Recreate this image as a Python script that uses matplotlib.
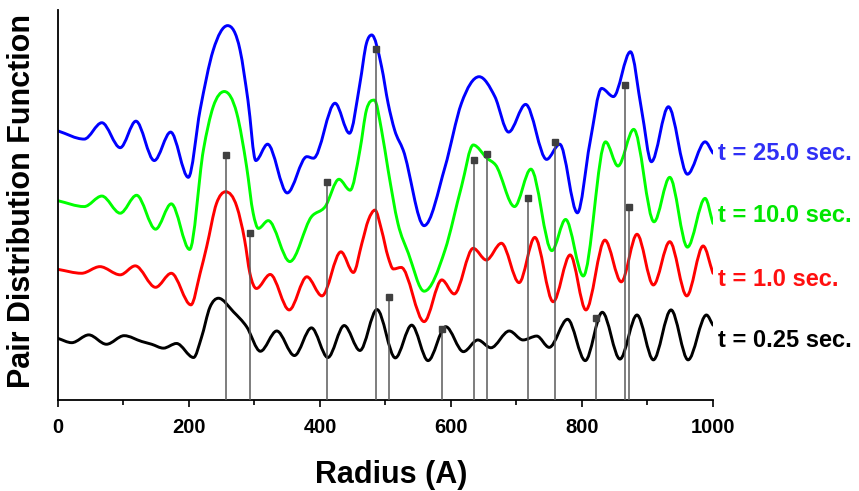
import numpy as np
import matplotlib

matplotlib.use("Agg")
import matplotlib.pyplot as plt
from matplotlib.path import Path
from matplotlib.patches import PathPatch

# curve readings: radius (A) and offset PDF value, read at peaks/troughs/shoulders/slopes
r_25 = [0, 40, 67, 95, 119, 147, 172, 199, 217, 237, 259, 278, 290, 302, 320, 350, 380,
        390, 423, 445, 461, 471, 479, 494, 504, 514, 527, 559, 591, 616, 643, 667, 688,
        714, 746, 766, 793, 812, 830, 848, 874, 891, 906, 932, 961, 988, 1000]
g_25 = [6.90, 6.69, 7.11, 6.47, 7.15, 6.14, 6.87, 5.71, 7.44, 8.97, 9.60, 8.97, 7.69, 6.14,
        6.56, 5.31, 6.24, 6.20, 7.61, 6.84, 8.12, 9.15, 9.36, 8.55, 7.61, 6.92, 6.41, 4.47,
        5.98, 7.61, 8.29, 7.78, 6.87, 7.58, 6.17, 6.56, 4.80, 6.58, 7.99, 7.78, 8.93, 7.44,
        6.11, 7.52, 5.79, 6.62, 6.33]

r_10 = [0, 40, 67, 95, 120, 149, 173, 201, 222, 237, 254, 273, 288, 298, 306, 321, 354,
        387, 408, 429, 446, 461, 471, 483, 494, 504, 519, 535, 559, 591, 616, 634, 655,
        668, 697, 722, 754, 775, 802, 836, 855, 879, 910, 934, 961, 988, 1000]
g_10 = [5.11, 4.96, 5.23, 4.79, 5.25, 4.38, 5.03, 3.86, 6.41, 7.52, 7.91, 7.35, 5.98, 4.79,
        4.40, 4.60, 3.55, 4.70, 4.96, 5.66, 5.38, 6.41, 7.44, 7.69, 6.92, 5.90, 4.53, 3.76,
        2.79, 3.85, 5.47, 6.54, 6.20, 6.03, 4.96, 5.92, 3.83, 4.63, 3.18, 6.62, 6.00, 6.94,
        4.57, 5.71, 3.92, 5.17, 4.53]

r_1 = [0, 36, 64, 95, 118, 149, 173, 203, 217, 227, 242, 256, 273, 285, 293, 303, 324,
       353, 380, 403, 432, 451, 464, 474, 484, 494, 504, 512, 524, 559, 586, 605, 634,
       654, 677, 704, 728, 756, 782, 806, 835, 860, 884, 909, 934, 960, 985, 1000]
g_1 = [3.35, 3.25, 3.42, 3.21, 3.44, 2.89, 3.25, 2.44, 3.25, 3.93, 5.04, 5.34, 4.96, 4.10,
       3.25, 2.86, 3.22, 2.31, 3.16, 2.67, 3.80, 3.27, 4.02, 4.62, 4.87, 4.36, 3.67, 3.36,
       3.40, 2.01, 3.08, 2.72, 3.89, 3.59, 4.02, 3.01, 4.17, 2.52, 3.72, 2.31, 4.10, 3.03,
       4.25, 2.95, 4.06, 2.67, 3.95, 3.25]

r_025 = [0, 21, 47, 74, 101, 128, 143, 161, 181, 207, 219, 232, 245, 268, 288, 309, 334,
         361, 387, 412, 437, 461, 487, 515, 540, 565, 592, 619, 641, 661, 689, 710, 731,
         750, 778, 805, 831, 858, 884, 909, 936, 962, 990, 1000]
g_025 = [1.58, 1.47, 1.67, 1.43, 1.65, 1.50, 1.43, 1.33, 1.45, 1.09, 1.60, 2.38, 2.61, 2.26,
         1.88, 1.25, 1.77, 1.14, 1.85, 1.09, 1.91, 1.27, 2.32, 1.08, 1.92, 1.01, 1.88, 1.24,
         1.54, 1.34, 1.77, 1.54, 1.64, 1.35, 2.07, 1.01, 2.25, 1.05, 2.18, 1.03, 2.31, 1.03,
         2.18, 1.92]

# reference peak sticks
stick_r = [256, 293, 411, 486, 505, 586, 635, 655, 717, 759, 821, 866, 872]
stick_h = [6.28, 4.28, 5.59, 9.00, 2.64, 1.82, 6.15, 6.31, 5.18, 6.62, 2.10, 8.08, 4.95]

series = [
    ("t = 25.0 sec.", r_25, g_25, "#0000ff", "#3030f5", 6.33),
    ("t = 10.0 sec.", r_10, g_10, "#00ff00", "#00e600", 4.74),
    ("t = 1.0 sec.", r_1, g_1, "#ff0000", "#ff1010", 3.10),
    ("t = 0.25 sec.", r_025, g_025, "#000000", "#000000", 1.52),
]


def spline_path(x, y):
    # smooth "spline connect" through the read points, drawn as bezier segments;
    # flat at local extrema, three-point slope elsewhere (limited to avoid overshoot)
    x = np.asarray(x, float)
    y = np.asarray(y, float)
    h = np.diff(x)
    d = np.diff(y) / h
    m = np.zeros_like(y)
    m[0], m[-1] = d[0], d[-1]
    for i in range(1, len(x) - 1):
        if d[i - 1] * d[i] > 0:
            s = (h[i] * d[i - 1] + h[i - 1] * d[i]) / (h[i - 1] + h[i])
            lim = 3 * min(abs(d[i - 1]), abs(d[i]))
            m[i] = np.sign(s) * min(abs(s), lim)
    verts = [(x[0], y[0])]
    codes = [Path.MOVETO]
    for i in range(len(x) - 1):
        verts += [(x[i] + h[i] / 3, y[i] + m[i] * h[i] / 3),
                  (x[i + 1] - h[i] / 3, y[i + 1] - m[i + 1] * h[i] / 3),
                  (x[i + 1], y[i + 1])]
        codes += [Path.CURVE4] * 3
    return Path(verts, codes)


plt.rcParams["font.family"] = ["Liberation Sans", "DejaVu Sans"]
plt.rcParams["font.weight"] = "bold"

fig = plt.figure(figsize=(8.59, 4.91), dpi=100)
ax = fig.add_axes([0.0675, 0.1853, 0.7625, 0.7943])

for label, r, g, color, tcolor, ty in series:
    ax.add_patch(PathPatch(spline_path(r, g), fill=False, edgecolor=color,
                           lw=2.1, capstyle="round", joinstyle="round", zorder=2))
    ax.text(1008, ty, label, color=tcolor, fontsize=17, fontweight="bold",
            ha="left", va="center", clip_on=False)

ax.vlines(stick_r, 0, stick_h, color="#5a5a5a", lw=1.1, zorder=3)
ax.plot(stick_r, stick_h, ls="none", marker="s", ms=4.5, color="#404040", zorder=4)

ax.set_xlim(0, 1000)
ax.set_ylim(0, 10)
ax.spines["top"].set_visible(False)
ax.spines["right"].set_visible(False)
ax.spines["left"].set_linewidth(1.3)
ax.spines["bottom"].set_linewidth(1.3)
ax.set_yticks([])
ax.set_xticks(range(0, 1001, 200))
ax.set_xticks(range(100, 1000, 200), minor=True)
ax.tick_params(axis="x", which="major", direction="out", length=5, width=1.2,
               labelsize=14.5, pad=8)
ax.tick_params(axis="x", which="minor", direction="out", length=3.5, width=1.2)
for t in ax.get_xticklabels():
    t.set_fontweight("bold")

ax.set_xlabel("Radius (A)", fontsize=22, fontweight="bold")
ax.set_ylabel("Pair Distribution Function", fontsize=22, fontweight="bold")
ax.xaxis.set_label_coords(0.508, -0.155)
ax.yaxis.set_label_coords(-0.032, 0.51)

fig.savefig("out.png", dpi=100)
